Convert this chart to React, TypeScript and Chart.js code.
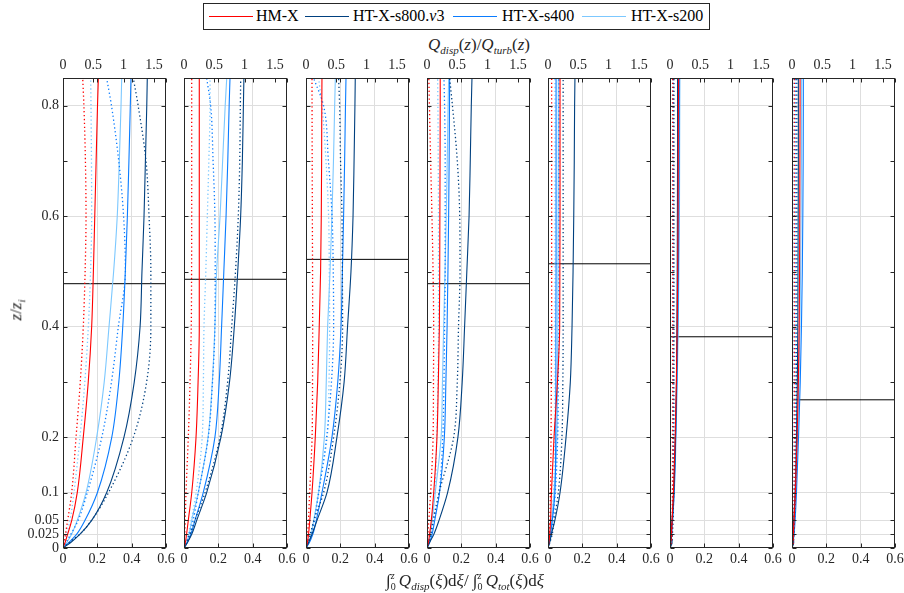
import React, { useEffect, useRef } from 'react';
import { Chart, registerables } from 'chart.js';

Chart.register(...registerables);

// ---------- data ----------
const zLevels = [0, 0.01, 0.025, 0.05, 0.1, 0.2, 0.3, 0.4, 0.5, 0.6, 0.7, 0.8, 0.85];
const yTicks = [0, 0.025, 0.05, 0.1, 0.2, 0.3, 0.4, 0.5, 0.6, 0.7, 0.8];
const yGridless = [0.3, 0.5, 0.7];
const bottomTicks = [0, 0.2, 0.4, 0.6];
const topTicks = [0, 0.5, 1, 1.5];
const seriesNames = ['HM-X', 'HT-X-s800.v3', 'HT-X-s400', 'HT-X-s200'];
const seriesColors = ['#ff0000', '#00407f', '#0a7cff', '#7cc8ff'];
const boundaryZ = [0.478, 0.486, 0.522, 0.478, 0.514, 0.382, 0.268];

// cumulative ratio (bottom axis), one row per panel, values at zLevels
const hmCum = [
  [0, 0.012, 0.027, 0.051, 0.083, 0.118, 0.147, 0.167, 0.177, 0.185, 0.193, 0.201, 0.206],
  [0, 0.008, 0.015, 0.025, 0.045, 0.07, 0.082, 0.089, 0.089, 0.089, 0.089, 0.089, 0.089],
  [0, 0.008, 0.015, 0.022, 0.035, 0.054, 0.068, 0.077, 0.085, 0.089, 0.091, 0.092, 0.093],
  [0, 0.008, 0.015, 0.025, 0.039, 0.058, 0.066, 0.072, 0.074, 0.075, 0.076, 0.077, 0.077],
  [0, 0.005, 0.01, 0.015, 0.02, 0.035, 0.055, 0.068, 0.069, 0.07, 0.07, 0.07, 0.07],
  [0, 0.004, 0.008, 0.012, 0.02, 0.03, 0.037, 0.042, 0.045, 0.047, 0.048, 0.049, 0.05],
  [0, 0.004, 0.008, 0.012, 0.02, 0.03, 0.037, 0.042, 0.044, 0.045, 0.046, 0.047, 0.047],
];
const s800Cum = [
  [0, 0.045, 0.099, 0.167, 0.254, 0.355, 0.415, 0.449, 0.46, 0.472, 0.48, 0.488, 0.491],
  [0, 0.02, 0.045, 0.074, 0.132, 0.215, 0.265, 0.293, 0.313, 0.33, 0.34, 0.346, 0.349],
  [0, 0.015, 0.035, 0.064, 0.122, 0.18, 0.222, 0.242, 0.262, 0.274, 0.28, 0.285, 0.287],
  [0, 0.015, 0.04, 0.07, 0.12, 0.18, 0.205, 0.219, 0.232, 0.245, 0.252, 0.258, 0.262],
  [0, 0.01, 0.02, 0.04, 0.07, 0.105, 0.13, 0.14, 0.146, 0.15, 0.153, 0.155, 0.157],
  [0, 0.012, 0.006, 0.012, 0.022, 0.032, 0.038, 0.04, 0.042, 0.043, 0.044, 0.044, 0.044],
  [0, 0.01, 0.005, 0.01, 0.018, 0.026, 0.031, 0.034, 0.035, 0.036, 0.037, 0.037, 0.037],
];
const s400Cum = [
  [0, 0.035, 0.08, 0.128, 0.2, 0.284, 0.325, 0.348, 0.363, 0.375, 0.384, 0.392, 0.396],
  [0, 0.02, 0.04, 0.064, 0.112, 0.18, 0.205, 0.219, 0.232, 0.245, 0.255, 0.263, 0.268],
  [0, 0.02, 0.04, 0.06, 0.093, 0.151, 0.185, 0.204, 0.212, 0.219, 0.225, 0.23, 0.233],
  [0, 0.015, 0.03, 0.045, 0.073, 0.101, 0.11, 0.117, 0.122, 0.126, 0.129, 0.131, 0.132],
  [0, 0.008, 0.015, 0.025, 0.04, 0.045, 0.046, 0.046, 0.047, 0.047, 0.047, 0.047, 0.047],
  [0, 0.005, 0.01, 0.015, 0.024, 0.033, 0.04, 0.045, 0.049, 0.051, 0.053, 0.054, 0.054],
  [0, 0.006, 0.012, 0.018, 0.026, 0.038, 0.048, 0.055, 0.06, 0.063, 0.065, 0.066, 0.066],
];
const s200Cum = [
  [0, 0.022, 0.05, 0.083, 0.134, 0.196, 0.24, 0.268, 0.295, 0.316, 0.328, 0.338, 0.342],
  [0, 0.015, 0.03, 0.045, 0.083, 0.14, 0.165, 0.18, 0.19, 0.21, 0.225, 0.24, 0.249],
  [0, 0.015, 0.03, 0.045, 0.073, 0.107, 0.118, 0.126, 0.14, 0.151, 0.16, 0.167, 0.171],
  [0, 0.01, 0.02, 0.03, 0.048, 0.082, 0.09, 0.097, 0.105, 0.112, 0.118, 0.123, 0.126],
  [0, 0.008, 0.015, 0.022, 0.035, 0.052, 0.055, 0.057, 0.058, 0.059, 0.06, 0.06, 0.06],
  [0, 0.005, 0.01, 0.015, 0.025, 0.035, 0.042, 0.048, 0.052, 0.055, 0.056, 0.057, 0.058],
  [0, 0.005, 0.01, 0.015, 0.022, 0.032, 0.04, 0.046, 0.05, 0.053, 0.055, 0.056, 0.056],
];

// Q_disp / Q_turb (top axis), one row per panel, values at zLevels
const hmRatio = [
  [0, 0.015, 0.04, 0.077, 0.143, 0.215, 0.285, 0.335, 0.365, 0.38, 0.37, 0.345, 0.325],
  [0, 0.005, 0.012, 0.02, 0.033, 0.071, 0.1, 0.12, 0.125, 0.127, 0.127, 0.127, 0.127],
  [0, 0.01, 0.025, 0.04, 0.06, 0.1, 0.108, 0.11, 0.108, 0.105, 0.102, 0.1, 0.099],
  [0, 0.005, 0.015, 0.03, 0.06, 0.1, 0.107, 0.11, 0.1, 0.082, 0.06, 0.04, 0.03],
  [0, 0.01, 0.02, 0.03, 0.04, 0.05, 0.055, 0.06, 0.06, 0.06, 0.06, 0.06, 0.06],
  [0, 0.02, 0.03, 0.035, 0.04, 0.042, 0.043, 0.043, 0.043, 0.043, 0.043, 0.043, 0.043],
  [0, 0.02, 0.025, 0.03, 0.035, 0.04, 0.04, 0.04, 0.04, 0.04, 0.04, 0.04, 0.04],
];
const s800Ratio = [
  [0, 0.1, 0.28, 0.47, 0.75, 1.16, 1.38, 1.45, 1.45, 1.42, 1.37, 1.24, 1.16],
  [0, 0.04, 0.1, 0.18, 0.347, 0.594, 0.72, 0.787, 0.85, 0.896, 0.92, 0.93, 0.936],
  [0, 0.03, 0.07, 0.13, 0.29, 0.455, 0.56, 0.604, 0.6, 0.594, 0.57, 0.555, 0.538],
  [0, 0.03, 0.06, 0.1, 0.2, 0.44, 0.5, 0.52, 0.545, 0.54, 0.5, 0.42, 0.373],
  [0, 0.03, 0.07, 0.1, 0.17, 0.23, 0.245, 0.25, 0.25, 0.25, 0.25, 0.25, 0.25],
  [0, 0.03, 0.04, 0.05, 0.06, 0.065, 0.065, 0.065, 0.065, 0.065, 0.065, 0.065, 0.065],
  [0, 0.02, 0.03, 0.04, 0.055, 0.07, 0.075, 0.08, 0.08, 0.08, 0.08, 0.08, 0.08],
];
const s400Ratio = [
  [0, 0.05, 0.13, 0.25, 0.4, 0.64, 0.8, 0.913, 1.03, 1.0, 0.92, 0.8, 0.72],
  [0, 0.04, 0.09, 0.15, 0.236, 0.4, 0.47, 0.51, 0.515, 0.51, 0.48, 0.44, 0.374],
  [0, 0.04, 0.09, 0.14, 0.21, 0.34, 0.42, 0.456, 0.45, 0.43, 0.37, 0.29, 0.125],
  [0, 0.03, 0.07, 0.12, 0.2, 0.26, 0.28, 0.29, 0.3, 0.3, 0.3, 0.29, 0.28],
  [0, 0.03, 0.05, 0.08, 0.12, 0.16, 0.17, 0.18, 0.18, 0.18, 0.18, 0.18, 0.18],
  [0, 0.025, 0.035, 0.045, 0.05, 0.055, 0.055, 0.055, 0.055, 0.055, 0.055, 0.055, 0.055],
  [0, 0.02, 0.03, 0.04, 0.05, 0.06, 0.06, 0.06, 0.06, 0.06, 0.06, 0.06, 0.06],
];
const s200Ratio = [
  [0, 0.02, 0.055, 0.115, 0.18, 0.28, 0.36, 0.418, 0.455, 0.473, 0.47, 0.462, 0.457],
  [0, 0.03, 0.07, 0.12, 0.2, 0.3, 0.32, 0.33, 0.36, 0.385, 0.41, 0.43, 0.43],
  [0, 0.04, 0.08, 0.13, 0.2, 0.35, 0.38, 0.39, 0.385, 0.373, 0.33, 0.264, 0.208],
  [0, 0.02, 0.05, 0.08, 0.13, 0.16, 0.18, 0.19, 0.19, 0.19, 0.185, 0.18, 0.175],
  [0, 0.02, 0.04, 0.06, 0.09, 0.11, 0.115, 0.115, 0.115, 0.115, 0.115, 0.115, 0.115],
  [0, 0.02, 0.03, 0.04, 0.045, 0.05, 0.05, 0.05, 0.05, 0.05, 0.05, 0.05, 0.05],
  [0, 0.01, 0.015, 0.02, 0.022, 0.025, 0.025, 0.025, 0.025, 0.025, 0.025, 0.025, 0.025],
];

const cumSeries = [hmCum, s800Cum, s400Cum, s200Cum];
const ratioSeries = [hmRatio, s800Ratio, s400Ratio, s200Ratio];

// ---------- layout ----------
const PANEL_LEFTS = [63, 184, 306, 427, 548, 670, 792];
const PANEL_W = 103;
const PLOT_TOP = 78;
const PLOT_H = 470;
const AX_H = 30;
const FONT = 'Liberation Serif, serif';
const TEXT = '#262626';
const GRID = '#dedede';

const fmt = (v: number) => String(Math.round(v * 1000) / 1000);

const framePlugin = {
  id: 'matlabFrame',
  afterDatasetsDraw(chart: any) {
    const { ctx, chartArea: a, scales } = chart;
    const L = Math.round(a.left) + 0.5;
    const R = Math.round(a.right) - 0.5;
    const T = Math.round(a.top) + 0.5;
    const B = Math.round(a.bottom) - 0.5;
    const tl = 4;
    ctx.save();
    ctx.strokeStyle = TEXT;
    ctx.lineWidth = 1;
    ctx.beginPath();
    yTicks.forEach((v) => {
      const y = Math.round(scales.y.getPixelForValue(v)) + 0.5;
      ctx.moveTo(L, y); ctx.lineTo(L + tl, y);
      ctx.moveTo(R, y); ctx.lineTo(R - tl, y);
    });
    bottomTicks.forEach((v) => {
      const x = Math.round(scales.x.getPixelForValue(v)) + 0.5;
      ctx.moveTo(x, B); ctx.lineTo(x, B - tl);
      ctx.moveTo(x, T); ctx.lineTo(x, T + tl);
    });
    topTicks.forEach((v) => {
      const x = Math.round(scales.x2.getPixelForValue(v)) + 0.5;
      ctx.moveTo(x, T); ctx.lineTo(x, T + tl);
    });
    ctx.stroke();
    ctx.strokeRect(L, T, R - L, B - T);
    ctx.restore();
  },
};

function Panel({ index }: { index: number }) {
  const ref = useRef<HTMLCanvasElement>(null);
  const padL = index === 0 ? 50 : 14;
  const padR = 14;
  const width = padL + PANEL_W + padR;
  const height = AX_H * 2 + PLOT_H;

  useEffect(() => {
    const datasets: any[] = [];
    seriesNames.forEach((name, s) => {
      datasets.push({
        label: name + ' cumulative',
        data: zLevels.map((z, k) => ({ x: cumSeries[s][index][k], y: z })),
        borderColor: seriesColors[s],
        borderWidth: 1.1,
        xAxisID: 'x',
        yAxisID: 'y',
      });
      datasets.push({
        label: name + ' ratio',
        data: zLevels.map((z, k) => ({ x: ratioSeries[s][index][k], y: z })),
        borderColor: seriesColors[s],
        borderWidth: 1.3,
        borderDash: [1.3, 2.6],
        xAxisID: 'x2',
        yAxisID: 'y',
      });
    });
    datasets.push({
      label: 'boundary',
      data: [
        { x: bottomTicks[0], y: boundaryZ[index] },
        { x: bottomTicks[bottomTicks.length - 1], y: boundaryZ[index] },
      ],
      borderColor: '#000000',
      borderWidth: 1,
      cubicInterpolationMode: 'default',
      tension: 0,
      xAxisID: 'x',
      yAxisID: 'y',
    });

    const tickFont = { family: FONT, size: 14 };
    const chart = new Chart(ref.current!, {
      type: 'line',
      data: { datasets },
      options: {
        animation: false,
        responsive: false,
        indexAxis: 'y',
        font: { family: FONT },
        layout: { padding: { left: index === 0 ? 0 : padL, right: padR, top: 0, bottom: 0 } },
        plugins: { legend: { display: false }, tooltip: { enabled: false } },
        elements: {
          point: { radius: 0 },
          line: { cubicInterpolationMode: 'monotone', fill: false },
        },
        scales: {
          x: {
            type: 'linear',
            position: 'bottom',
            min: 0,
            max: 0.6,
            afterBuildTicks: (s: any) => { s.ticks = bottomTicks.map((v) => ({ value: v })); },
            afterFit: (s: any) => { s.height = AX_H; },
            border: { display: false },
            grid: {
              drawTicks: false,
              color: (c: any) => (c.tick && c.tick.value > 0 && c.tick.value < 0.6 ? GRID : 'rgba(0,0,0,0)'),
            },
            ticks: { autoSkip: false, maxRotation: 0, padding: 3, font: tickFont, color: TEXT, callback: (v: any) => fmt(v) },
          },
          x2: {
            type: 'linear',
            position: 'top',
            min: 0,
            max: 1.7,
            afterBuildTicks: (s: any) => { s.ticks = topTicks.map((v) => ({ value: v })); },
            afterFit: (s: any) => { s.height = AX_H; },
            border: { display: false },
            grid: { display: false, drawTicks: false },
            ticks: { autoSkip: false, maxRotation: 0, padding: 4, font: tickFont, color: TEXT, callback: (v: any) => fmt(v) },
          },
          y: {
            type: 'linear',
            position: 'left',
            min: 0,
            max: 0.85,
            afterBuildTicks: (s: any) => { s.ticks = yTicks.map((v) => ({ value: v })); },
            afterFit: (s: any) => { s.width = index === 0 ? padL : 0; },
            border: { display: false },
            grid: {
              drawTicks: false,
              color: (c: any) =>
                c.tick && c.tick.value > 0 && !yGridless.includes(c.tick.value) ? GRID : 'rgba(0,0,0,0)',
            },
            ticks: {
              display: index === 0,
              autoSkip: false,
              padding: 4,
              font: tickFont,
              color: TEXT,
              callback: (v: any) => (yGridless.includes(v) ? '' : fmt(v)),
            },
          },
        },
      } as any,
      plugins: [framePlugin],
    });
    return () => chart.destroy();
  }, [index]);

  return (
    <canvas
      ref={ref}
      width={width}
      height={height}
      style={{
        position: 'absolute',
        left: PANEL_LEFTS[index] - padL,
        top: PLOT_TOP - AX_H,
        width,
        height,
      }}
    />
  );
}

const legendItems = [
  { line: 209, text: 256 },
  { line: 305, text: 353 },
  { line: 453, text: 502 },
  { line: 582, text: 631 },
];

export default function App() {
  const serif: React.CSSProperties = { fontFamily: FONT, color: '#000' };
  return (
    <div style={{ position: 'absolute', left: 0, top: 0, width: 904, height: 593, background: '#fff', overflow: 'hidden' }}>
      {/* legend */}
      <div
        style={{
          position: 'absolute',
          left: 203,
          top: 3,
          width: 505,
          height: 25,
          border: '1px solid #262626',
          background: '#fff',
        }}
      />
      {seriesNames.map((name, s) => (
        <React.Fragment key={name}>
          <div
            style={{
              position: 'absolute',
              left: legendItems[s].line,
              top: 16,
              width: 44,
              height: 0,
              borderTop: `1px solid ${seriesColors[s]}`,
            }}
          />
          <div
            style={{
              ...serif,
              position: 'absolute',
              left: legendItems[s].text,
              top: 6,
              fontSize: 16,
              lineHeight: '20px',
              whiteSpace: 'nowrap',
            }}
          >
            {s === 1 ? (
              <>HT-X-s800.<i>v</i>3</>
            ) : (
              name
            )}
          </div>
        </React.Fragment>
      ))}

      {/* top axis label */}
      <div
        style={{
          ...serif,
          position: 'absolute',
          left: 379,
          width: 200,
          top: 35,
          textAlign: 'center',
          fontSize: 17,
          lineHeight: '20px',
          whiteSpace: 'nowrap',
          color: TEXT,
        }}
      >
        <i>Q</i>
        <sub style={{ fontSize: 11 }}><i>disp</i></sub>(<i>z</i>)/<i>Q</i>
        <sub style={{ fontSize: 11 }}><i>turb</i></sub>(<i>z</i>)
      </div>

      {PANEL_LEFTS.map((_, i) => (
        <Panel key={i} index={i} />
      ))}

      {/* bottom axis label */}
      <div
        style={{
          ...serif,
          position: 'absolute',
          left: 315,
          width: 300,
          top: 566,
          textAlign: 'center',
          fontSize: 17,
          lineHeight: '20px',
          whiteSpace: 'nowrap',
          color: TEXT,
        }}
      >
        ∫<sub style={{ fontSize: 10 }}>0</sub>
        <sup style={{ fontSize: 10, marginLeft: -5 }}><i>z</i></sup> <i>Q</i>
        <sub style={{ fontSize: 11 }}><i>disp</i></sub>(<i>ξ</i>)d<i>ξ</i>/ ∫<sub style={{ fontSize: 10 }}>0</sub>
        <sup style={{ fontSize: 10, marginLeft: -5 }}><i>z</i></sup> <i>Q</i>
        <sub style={{ fontSize: 11 }}><i>tot</i></sub>(<i>ξ</i>)d<i>ξ</i>
      </div>

      {/* y axis label */}
      <div
        style={{
          ...serif,
          position: 'absolute',
          left: 17,
          top: 310,
          transform: 'translate(-50%, -50%) rotate(-90deg)',
          fontSize: 17,
          whiteSpace: 'nowrap',
          color: TEXT,
        }}
      >
        <i>z</i>/<i>z</i>
        <sub style={{ fontSize: 11 }}><i>i</i></sub>
      </div>
    </div>
  );
}
